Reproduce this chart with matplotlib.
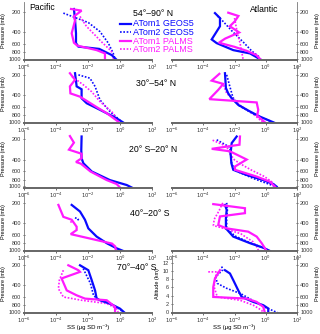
import numpy as np
import matplotlib.pyplot as plt
from matplotlib.lines import Line2D

plt.rcParams['font.family'] = ['Liberation Sans', 'DejaVu Sans']

# altitude (km) / log10 SS (ug SD m-3) for each profile
# g1 = ATom1 GEOS5, g2 = ATom2 GEOS5, p1 = ATom1 PALMS, p2 = ATom2 PALMS
nan = np.nan

# Pacific 54-90 N
pac1_g1_z = [12.2, 9.6, 6.3, 3.9, 3.05, 2.5, 1.0, 0.0]
pac1_g1 = [-2.88, -2.81, -2.75, -2.75, -2.6, -1.3, -0.52, -0.25]
pac1_g2_z = [11.2, 8.9, 6.7, 3.9, 1.4, 0.0]
pac1_g2 = [-3.54, -1.98, -1.25, -0.73, -0.42, -0.31]
pac1_p1_z = [12.2, 11.8, 10.4, 9.4, 6.3, 4.0, 3.3, 2.2, 1.4, 0.0]
pac1_p1 = [-3.06, -2.4, -2.88, -2.81, -3.02, -2.88, -2.67, -1.46, -0.94, -0.94]
pac1_p2_z = [10.4, 8.0, 6.0, 4.0, 2.0, 0.0]
pac1_p2 = [-2.5, -2.1, -1.6, -1.1, -0.55, -0.4]

# Atlantic 54-90 N
atl1_g1_z = [11.2, 10.0, 8.0, 4.8, 3.9, 2.2, 1.4, 0.0]
atl1_g1 = [-3.25, -2.93, -2.93, -3.46, -3.14, -2.08, -1.01, -0.37]
atl1_g2_z = [10.5, 10.0, 7.0, 4.0, 2.0, 0.4]
atl1_g2 = [-3.1, -2.93, -2.2, -1.4, -0.9, -0.37]
atl1_p1_z = [11.3, 10.5, 9.2, 8.0, 6.5, 5.0, 4.0, 3.0, 2.0, 1.0, 0.0]
atl1_p1 = [-2.4, -1.75, -1.98, -2.3, -1.7, -2.6, -3.0, -2.0, -1.2, -0.6, -0.35]
atl1_p2_z = [10.0, 8.0, 6.0, 4.0, 2.0, 0.0]
atl1_p2 = [-2.0, -1.9, -1.8, -1.65, -1.55, -1.45]

# Pacific 30-54 N
pac2_g1_z = [11.9, 8.7, 8.0, 5.8, 4.6, 3.0, 0.94, -0.1]
pac2_g1 = [-2.81, -2.71, -2.4, -2.4, -2.08, -1.25, -0.21, 0.21]
pac2_g2_z = [11.5, 10.7, 8.7, 5.4, 2.6, 0.1]
pac2_g2 = [-2.6, -1.88, -1.56, -1.25, -0.63, 0.1]
pac2_p1_z = [11.9, 10.3, 8.7, 7.0, 6.2, 3.4, 2.2, 0.1]
pac2_p1 = [-3.13, -2.81, -3.13, -3.1, -2.5, -1.35, -0.83, -0.1]
pac2_p2_z = [11.1, 9.1, 7.4, 5.0, 2.2, 0.0]
pac2_p2 = [-3.0, -2.3, -1.77, -1.25, -0.42, -0.1]

# Atlantic 30-54 N
atl2_g1_z = [11.9, 8.3, 7.0, 5.8, 4.2, 2.6, 1.35, -0.2]
atl2_g1 = [-2.61, -2.55, -2.4, -2.18, -1.76, -1.01, -0.37, 0.59]
atl2_g2_z = [11.5, 8.7, 6.0, 4.0, 2.0, -0.1]
atl2_g2 = [-2.5, -2.3, -2.1, -1.7, -0.8, 0.5]
atl2_p1_z = [11.75, 10.1, 9.3, 7.85, 5.6, 4.8, 3.0, 1.6, -0.2]
atl2_p1 = [-2.97, -3.46, -2.72, -3.04, -3.61, -0.58, -0.48, -0.55, 0.0]
atl2_p2_z = [9.0, 7.0, 6.0, 4.0, 2.0, 0.0]
atl2_p2 = [-2.7, -2.5, -2.2, -1.6, -0.8, -0.2]

# Pacific 20 S-20 N (ATom1 only)
pac3_g1_z = [12.2, 8.9, 6.9, 5.7, 3.7, 1.6, 0.4, -0.2]
pac3_g1 = [-2.4, -2.42, -2.4, -2.29, -1.77, -0.63, 0.42, 0.73]
pac3_g2_z = []
pac3_g2 = []
pac3_p1_z = [12.3, 10.7, 9.0, 8.0, 6.9, 6.0, 5.6, 3.7, 1.6, 0.65, -0.2]
pac3_p1 = [-3.13, -2.88, -3.19, -2.4, -2.4, -2.75, -2.45, -1.85, -0.83, -0.21, 0.0]
pac3_p2_z = []
pac3_p2 = []

# Atlantic 20 S-20 N
atl3_g1_z = [12.2, 10.6, 8.1, 5.7, 4.1, 2.85, 1.6, 0.65, 0.0]
atl3_g1 = [-1.86, -2.18, -2.25, -2.2, -2.08, -1.22, -0.16, 0.48, 0.7]
atl3_g2_z = [11.4, 9.6, 8.0, 6.0, 4.0, 2.0, 0.0]
atl3_g2 = [-3.14, -2.3, -2.25, -2.2, -2.0, -0.8, 0.65]
atl3_p1_z = [12.2, 10.2, 9.2, 8.6, 6.6, 4.9, 4.1, 2.45, 1.2, 0.0]
atl3_p1 = [-1.65, -1.68, -3.46, -2.29, -1.22, -1.97, -1.97, -0.58, 0.27, 0.59]
atl3_p2_z = [11.3, 9.8, 8.0, 6.5, 5.5, 4.0, 2.5, 1.0, 0.0]
atl3_p2 = [-3.4, -2.5, -2.3, -2.0, -1.6, -0.9, -0.1, 0.45, 0.6]

# Pacific 40-20 S
pac4_g1_z = [11.0, 9.4, 7.4, 5.3, 3.3, 1.7, 0.45, -0.2]
pac4_g1 = [-3.02, -2.5, -2.19, -1.98, -1.46, -0.83, -0.21, 0.21]
pac4_g2_z = [7.9, 7.5, 7.1, nan, 1.6, 1.0, 0.3]
pac4_g2 = [-2.81, -2.6, -2.7, nan, -0.75, -0.4, -0.2]
pac4_p1_z = [11.0, 8.1, 7.4, 5.7, 4.9, 3.9, 1.6, 0.9, -0.2]
pac4_p1 = [-3.85, -3.54, -3.02, -2.71, -2.71, -3.08, -0.5, -0.3, -0.25]
pac4_p2_z = [7.0, 6.5, nan, 1.6, 1.0]
pac4_p2 = [-3.1, -2.95, nan, -0.7, -0.35]

# Atlantic 40-20 S
atl4_g1_z = [11.0, 9.8, 7.8, 5.3, 3.3, 1.7, 0.6, -0.2]
atl4_g1 = [-2.61, -2.5, -2.55, -2.55, -2.08, -1.01, -0.16, 0.27]
atl4_g2_z = [11.5, 10.0, 8.0, 5.5, 3.5, 1.8, 0.5, -0.2]
atl4_g2 = [-2.5, -2.45, -2.5, -2.5, -2.0, -1.0, -0.1, 0.25]
atl4_p1_z = [11.2, 10.2, 9.0, 8.2, 6.1, 5.3, 4.5, 3.3, 1.7, -0.2]
atl4_p1 = [-3.36, -1.33, -1.33, -2.93, -3.04, -2.5, -1.12, -0.58, -0.26, 0.06]
atl4_p2_z = [11.5, 9.5, 7.5, 6.0, 5.2, 4.0, 2.0, 1.0, -0.2]
atl4_p2 = [-2.75, -3.0, -3.3, -3.35, -2.6, -1.6, -0.8, -0.6, -0.45]

# Pacific 70-40 S
pac5_g1_z = [11.4, 10.2, 7.8, 5.3, 3.3, 2.9, 2.1, 0.86, -0.2]
pac5_g1 = [-2.5, -1.98, -1.77, -1.56, -1.46, -1.25, -0.63, 0.0, 0.31]
pac5_g2_z = [10.6, 7.0, 5.5, 4.0, 3.0, 2.0, 1.0, -0.2]
pac5_g2 = [-2.3, -1.85, -1.75, -1.65, -1.3, -0.6, -0.1, 0.25]
pac5_p1_z = [11.4, 10.2, 9.8, 8.2, 5.3, 4.1, 3.3, 2.9, 1.3, -0.2]
pac5_p1 = [-3.23, -2.6, -2.5, -3.65, -3.33, -2.71, -2.19, -0.83, -0.31, -0.31]
pac5_p2_z = [10.2, 7.8, 5.7, 3.7, 2.9, 2.1, 0.86, -0.2]
pac5_p2 = [-3.54, -3.79, -3.85, -3.54, -2.4, -0.83, -0.21, -0.1]

# Atlantic 70-40 S
atl5_g1_z = [10.2, 9.4, 7.8, 5.3, 3.7, 2.5, 1.7, 0.9, -0.2]
atl5_g1 = [-2.61, -2.29, -2.08, -1.76, -1.54, -0.8, -0.16, 0.16, 0.16]
atl5_g2_z = [11.1, 10.3, 8.6, 7.0, 5.8, 4.5, 3.0, 1.3, -0.2]
atl5_g2 = [-2.82, -2.75, -3.2, -3.1, -2.5, -1.6, -0.9, -0.1, 0.8]
atl5_p1_z = [10.2, 8.2, 6.1, 3.7, 3.3, 2.5, 1.3, -0.2]
atl5_p1 = [-2.93, -3.25, -3.36, -3.36, -1.22, -0.58, -0.16, -0.05]
atl5_p2_z = [9.8, 9.8, 8.6, 6.1, 3.7, 2.9, 1.7, 0.45, -0.2]
atl5_p2 = [-3.68, -3.04, -3.25, -3.3, -3.1, -1.65, -0.8, -0.26, -0.16]

regions = ["54°–90° N", "30°–54° N", "20° S–20° N", "40°–20° S", "70°–40° S"]
region_xy = [(153, 13), (156, 84), (153.5, 150), (150, 213), (137, 268)]
pressure_ticks = [200, 400, 600, 800, 1000]
alt_ticks = [0, 2, 4, 6, 8, 10, 12]
x_ticks = [1e-6, 1e-4, 1e-2, 1e0, 1e2]
x_ticklabels = ['$10^{-6}$', '$10^{-4}$', '$10^{-2}$', '$10^{0}$', '$10^{2}$']
series_names = ["ATom1 GEOS5", "ATom2 GEOS5", "ATom1 PALMS", "ATom2 PALMS"]

blue = '#0a0aff'
mag = '#ff1aff'
styles = [dict(color=blue, lw=1.6, ls='-'),
          dict(color=blue, lw=1.2, ls=(0, (1, 1))),
          dict(color=mag, lw=1.6, ls='-'),
          dict(color=mag, lw=1.2, ls=(0, (1, 1)))]

pacific = [
    [(pac1_g2_z, pac1_g2), (pac1_p2_z, pac1_p2), (pac1_g1_z, pac1_g1), (pac1_p1_z, pac1_p1)],
    [(pac2_g2_z, pac2_g2), (pac2_p2_z, pac2_p2), (pac2_g1_z, pac2_g1), (pac2_p1_z, pac2_p1)],
    [(pac3_g2_z, pac3_g2), (pac3_p2_z, pac3_p2), (pac3_g1_z, pac3_g1), (pac3_p1_z, pac3_p1)],
    [(pac4_g2_z, pac4_g2), (pac4_p2_z, pac4_p2), (pac4_g1_z, pac4_g1), (pac4_p1_z, pac4_p1)],
    [(pac5_g2_z, pac5_g2), (pac5_p2_z, pac5_p2), (pac5_g1_z, pac5_g1), (pac5_p1_z, pac5_p1)],
]
atlantic = [
    [(atl1_g2_z, atl1_g2), (atl1_p2_z, atl1_p2), (atl1_g1_z, atl1_g1), (atl1_p1_z, atl1_p1)],
    [(atl2_g2_z, atl2_g2), (atl2_p2_z, atl2_p2), (atl2_g1_z, atl2_g1), (atl2_p1_z, atl2_p1)],
    [(atl3_g2_z, atl3_g2), (atl3_p2_z, atl3_p2), (atl3_g1_z, atl3_g1), (atl3_p1_z, atl3_p1)],
    [(atl4_g2_z, atl4_g2), (atl4_p2_z, atl4_p2), (atl4_g1_z, atl4_g1), (atl4_p1_z, atl4_p1)],
    [(atl5_g2_z, atl5_g2), (atl5_p2_z, atl5_p2), (atl5_g1_z, atl5_g1), (atl5_p1_z, atl5_p1)],
]
draw_style = [styles[1], styles[3], styles[0], styles[2]]


def alt_of_p(p):
    return 7.07 * np.log(1017.0 / np.asarray(p, dtype=float))


W, H = 320.0, 334.0
fig = plt.figure(figsize=(3.2, 3.34), dpi=100)
bottoms = [60, 123, 187.5, 251, 313]
ax_h = 58

tick_fs = 4
spine_c = '#777777'
tick_c = '#333333'

for r in range(5):
    for side, data in (('L', pacific[r]), ('R', atlantic[r])):
        if side == 'L':
            rect = [24 / W, 1 - bottoms[r] / H, 128 / W, ax_h / H]
        else:
            rect = [172 / W, 1 - bottoms[r] / H, 125 / W, ax_h / H]
        ax = fig.add_axes(rect)
        ax.patch.set_alpha(0)
        for (z, lg), st in zip(data, draw_style):
            if len(z):
                ax.plot(10 ** np.asarray(lg, dtype=float), z, **st,
                        solid_joinstyle='miter', dash_capstyle='butt')
        ax.set_xscale('log')
        ax.set_xlim(1e-6, 1e2)
        ax.set_ylim(-0.2, 13.9)
        ax.set_xticks(x_ticks)
        ax.set_xticklabels(x_ticklabels)
        ax.minorticks_off()
        ax.tick_params(axis='x', labelsize=3.8, length=1.5, width=0.5,
                       pad=0.6, colors=tick_c)
        ax.spines['top'].set_visible(False)
        ax.spines['bottom'].set_color('#666666')
        ax.spines['bottom'].set_linewidth(1.4)
        if side == 'L':
            ax.spines['right'].set_visible(False)
            ax.spines['left'].set_color(spine_c)
            ax.spines['left'].set_linewidth(0.6)
            ax.yaxis.tick_left()
            ax.yaxis.set_label_position('left')
        else:
            ax.spines['left'].set_visible(False)
            ax.spines['right'].set_color(spine_c)
            ax.spines['right'].set_linewidth(0.6)
            ax.yaxis.tick_right()
            ax.yaxis.set_label_position('right')
        ax.set_yticks(alt_of_p(pressure_ticks))
        ax.set_yticklabels([str(p) for p in pressure_ticks])
        ax.tick_params(axis='y', labelsize=tick_fs, length=1.5, width=0.5,
                       pad=1.5, direction='inout', colors=tick_c)
        ax.set_ylabel('Pressure (mb)', fontsize=tick_fs, labelpad=2)
        if r == 4:
            ax.set_xlabel('SS (μg SD m⁻³)', fontsize=4.3)
            ax.xaxis.set_label_coords(0.5, -0.19)
            if side == 'R':
                sec = ax.secondary_yaxis('left')
                sec.spines['left'].set_color(spine_c)
                sec.spines['left'].set_linewidth(0.6)
                sec.set_yticks(alt_ticks)
                sec.tick_params(axis='y', labelsize=tick_fs, length=1.5,
                                width=0.5, pad=1.5, direction='inout',
                                colors=tick_c)
                sec.set_ylabel('Altitude (km)', fontsize=tick_fs, labelpad=2)

for (x, y), name in zip(region_xy, regions):
    fig.text(x / W, 1 - y / H, name, ha='center', va='center', fontsize=6.3)

fig.text(29 / W, 1 - 8 / H, 'Pacific', ha='left', va='center', fontsize=6.2)
fig.text(250 / W, 1 - 9 / H, 'Atlantic', ha='left', va='center', fontsize=6.2)

leg_y = [24, 32.3, 41, 49.3]
for yy, name, st in zip(leg_y, series_names, styles):
    fig.add_artist(Line2D([120 / W, 131 / W], [1 - yy / H, 1 - yy / H],
                          transform=fig.transFigure, **st))
    fig.text(133 / W, 1 - yy / H, name, ha='left', va='center',
             fontsize=6.5, color=st['color'])

fig.savefig('out.png', dpi=100)
